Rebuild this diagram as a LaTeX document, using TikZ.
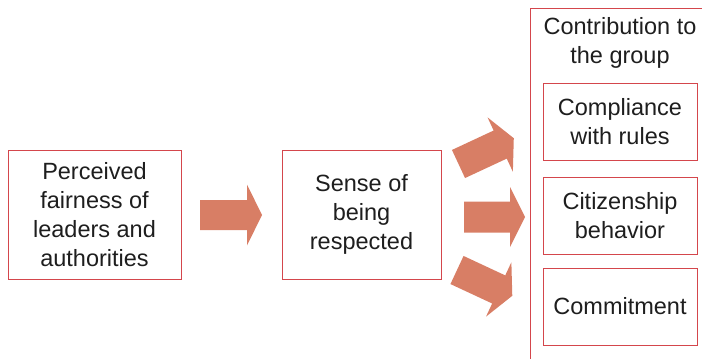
\documentclass[tikz,border=0pt]{standalone}
\usepackage{fontspec}
\setmainfont{Liberation Sans}
\begin{document}
\begin{tikzpicture}[x=1pt,y=-1pt]
\definecolor{boxred}{RGB}{212,70,76}
\definecolor{arrowfill}{RGB}{216,126,101}
\definecolor{txt}{RGB}{30,30,30}
\tikzset{
  box/.style={draw=boxred, line width=1pt, fill=white, inner sep=0pt,
    text=txt, align=center, font=\fontsize{23.5}{29}\selectfont},
  label/.style={text=txt, align=center, font=\fontsize{23.5}{29}\selectfont, inner sep=0pt},
  blockarrow/.style={fill=arrowfill, draw=none}
}
\useasboundingbox (0,0) rectangle (702,359);
\clip (0,0) rectangle (702,359);

% outer frame of the outcome group (runs past the right and bottom edges)
\draw[boxred, line width=1pt] (720,8) -- (530.5,8) -- (530.5,380);
\node[label] (group) at (620,42.5) {Contribution to\\the group};

% boxes
\node[box, minimum width=173pt, minimum height=129pt] (fair) at (94.5,214.5)
  {Perceived\\fairness of\\leaders and\\authorities};
\node[box, minimum width=159pt, minimum height=129pt] (resp) at (361.5,214.5)
  {Sense of\\being\\respected};
\node[box, minimum width=154pt, minimum height=77pt] (comp) at (620,121.5)
  {Compliance\\with rules};
\node[box, minimum width=154pt, minimum height=77pt] (citi) at (620,215.5)
  {Citizenship\\behavior};
\node[box, minimum width=154pt, minimum height=77pt] (comm) at (620,306.5)
  {Commitment};

% block arrows
\fill[blockarrow, shift={(200,215)}] (0,-15) -- (47,-15) -- (47,-30.5) -- (62,0) -- (47,30.5) -- (47,15) -- (0,15) -- cycle;
\fill[blockarrow, shift={(464,217)}] (0,-15.5) -- (46,-15.5) -- (46,-30) -- (61,0) -- (46,30) -- (46,15.5) -- (0,15.5) -- cycle;
\fill[blockarrow, shift={(458.5,164)}, rotate=25] (0,-15.5) -- (46,-15.5) -- (46,-30) -- (61,0) -- (46,30) -- (46,15.5) -- (0,15.5) -- cycle;
\fill[blockarrow, shift={(457,270)}, rotate=-25] (0,-15.5) -- (46,-15.5) -- (46,-30) -- (61,0) -- (46,30) -- (46,15.5) -- (0,15.5) -- cycle;
\end{tikzpicture}
\end{document}
